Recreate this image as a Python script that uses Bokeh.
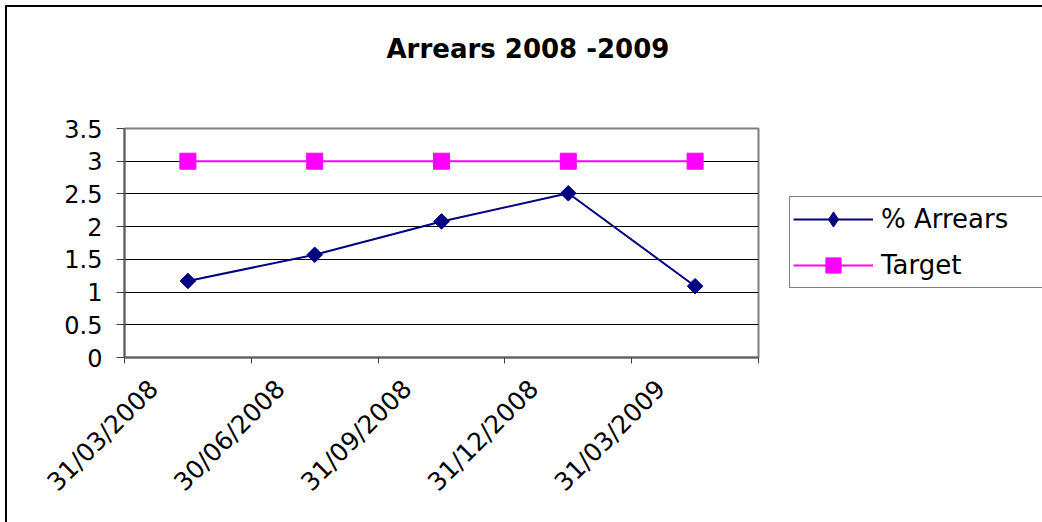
import numpy as np
from bokeh.plotting import figure
from bokeh.models import (Range1d, FixedTicker, NumeralTickFormatter, Legend, LegendItem,
                          ColumnDataSource, Title)
from bokeh.embed import file_html
from bokeh.resources import INLINE

# ---- data ----
categories = ["31/03/2008", "30/06/2008", "31/09/2008", "31/12/2008", "31/03/2009"]
arrears = [1.17, 1.57, 2.08, 2.51, 1.09]
target = [3, 3, 3, 3, 3]
y_ticks = [0, 0.5, 1, 1.5, 2, 2.5, 3, 3.5]
title_text = "Arrears 2008 -2009"
series_names = ["% Arrears", "Target"]

FONT = "DejaVu Sans"
n = len(categories)
x_pos = [i + 0.5 for i in range(n)]          # category centres
label_pos = [i + 0.23 for i in range(n)]     # where the rotated labels sit
boundaries = list(range(n + 1))

src = ColumnDataSource(dict(x=x_pos, arrears=arrears, target=target))

OFF = 7  # canvas offset caused by the margin
p = figure(frame_width=634, frame_height=229, output_backend="svg", toolbar_location=None,
           x_range=Range1d(0, n), y_range=Range1d(0, 3.5),
           min_border_left=124 - OFF, min_border_right=300, min_border_top=128 - OFF,
           min_border_bottom=175)
p.margin = (OFF, 0, 0, OFF)
p.styles = {"box-shadow": "-2px -2px 0px 0px black"}
p.background_fill_color = "white"
p.border_fill_color = "white"
p.outline_line_color = "#808080"
p.outline_line_width = 2

# title (spacer titles between frame and the main title push it up)
for _ in range(2):
    p.add_layout(Title(text=" ", text_font_size="16px"), "above")
p.title.text = title_text
p.title.align = "left"
p.title.offset = 262
p.title.vertical_align = "top"
p.title.text_font = FONT
p.title.text_font_size = "26px"
p.title.text_font_style = "bold"
p.title.text_color = "black"

# x axis
xa = p.xaxis[0]
xa.ticker = FixedTicker(ticks=label_pos, minor_ticks=boundaries)
xa.major_label_overrides = {lp: c for lp, c in zip(label_pos, categories)}
xa.major_label_orientation = np.pi / 4
xa.major_tick_out = 0
xa.major_tick_in = 0
xa.minor_tick_out = 6
xa.minor_tick_in = 0
xa.minor_tick_line_color = "#404040"
xa.minor_tick_line_width = 1
xa.axis_line_color = "#606060"
xa.axis_line_width = 2
xa.major_label_text_font = FONT
xa.major_label_text_font_size = "25px"
xa.major_label_text_color = "black"
xa.major_label_standoff = 21

# y axis
ya = p.yaxis[0]
ya.ticker = FixedTicker(ticks=y_ticks, minor_ticks=[])
ya.formatter = NumeralTickFormatter(format="0.[0]")
ya.major_tick_out = 8
ya.major_tick_in = 0
ya.minor_tick_out = 0
ya.major_tick_line_color = "#404040"
ya.axis_line_color = "#606060"
ya.axis_line_width = 2
ya.major_label_text_font = FONT
ya.major_label_text_font_size = "24px"
ya.major_label_text_color = "black"
ya.major_label_standoff = 14

p.xgrid.visible = False
p.ygrid.grid_line_color = "black"
p.ygrid.grid_line_width = 1

# series
l1 = p.line("x", "arrears", source=src, line_color="#000080", line_width=2)
m1 = p.scatter("x", "arrears", source=src, marker="square", size=11, angle=np.pi / 4,
               fill_color="#000080", line_color="#000080")
# diamond inside the rotated square, used for the legend's diamond glyph
m1d = p.scatter("x", "arrears", source=src, marker="diamond", size=14,
                fill_color="#000080", line_color="#000080")
l2 = p.line("x", "target", source=src, line_color="#FF00FF", line_width=2)
m2 = p.scatter("x", "target", source=src, marker="square", size=16,
               fill_color="#FF00FF", line_color="#FF00FF")

legend = Legend(items=[LegendItem(label=series_names[0], renderers=[l1, m1d]),
                       LegendItem(label=series_names[1], renderers=[l2, m2])],
                location=(31, 69))
legend.border_line_color = "black"
legend.border_line_width = 1
legend.background_fill_color = "white"
legend.background_fill_alpha = 1
legend.label_text_font = FONT
legend.label_text_font_size = "26px"
legend.label_text_color = "black"
legend.label_width = 160
legend.glyph_width = 80
legend.glyph_height = 38
legend.label_standoff = 8
legend.padding = 3
legend.spacing = 8
legend.margin = 0
p.add_layout(legend, "right")

open("out.html", "w").write(file_html(p, INLINE))
